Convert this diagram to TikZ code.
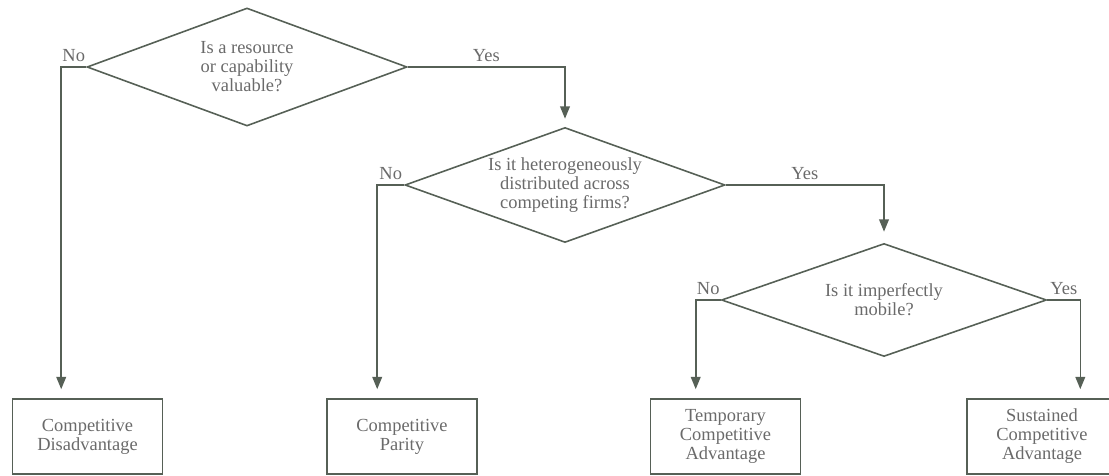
\documentclass[tikz,border=0pt]{standalone}
\usepackage{fontspec}
\setmainfont{Liberation Serif}
\usepackage{tikz}
\usetikzlibrary{arrows.meta,shapes.geometric}
\definecolor{inkgrey}{HTML}{566056}
\definecolor{textgrey}{HTML}{6A6A6A}

\begin{document}
\begin{tikzpicture}[>={Triangle[length=7pt, width=5.5pt]},
        font=\fontsize{10.5}{10.8}\selectfont, text=textgrey,
        decision/.style={diamond, aspect=2.8, draw=inkgrey, line width=0.9pt, inner sep=0pt, align=center},
        outcome/.style={draw=inkgrey, line width=0.9pt, minimum width=3cm, minimum height=1.5cm, align=center},
        flow/.style={draw=inkgrey, line width=0.9pt},
        tag/.style={above, inner sep=2.5pt}]
        \useasboundingbox (0,0) rectangle (22.18,9.5);
        \clip (0,0) rectangle (22.18,9.5);
        \node[decision, minimum width=6.4cm, minimum height=2.36cm] (valuable) at (4.94,8.16)  {Is a resource\\or capability\\valuable?};
        \node[decision, minimum width=6.4cm, minimum height=2.3cm]  (hetero)   at (11.30,5.80) {Is it heterogeneously\\distributed across\\competing firms?};
        \node[decision, minimum width=6.5cm, minimum height=2.26cm] (mobile)   at (17.68,3.50) {Is it imperfectly\\mobile?};
        \node[outcome] (disadv)    at (1.75,0.77)  {Competitive\\Disadvantage};
        \node[outcome] (parity)    at (8.04,0.77)  {Competitive\\Parity};
        \node[outcome] (temporary) at (14.51,0.77) {Temporary\\Competitive\\Advantage};
        \node[outcome] (sustained) at (20.84,0.77) {Sustained\\Competitive\\Advantage};
        % yes branches
        \draw[flow, ->, shorten >=0.16cm] (valuable.east) -- node[tag] (yes1) {Yes} (valuable.east -| hetero.north) -- (hetero.north);
        \draw[flow, ->, shorten >=0.22cm] (hetero.east) -- node[tag] (yes2) {Yes} (hetero.east -| mobile.north) -- (mobile.north);
        \draw[flow, ->, shorten >=0.18cm] (mobile.east) -- node[tag] (yes3) {Yes} ++(0.66,0) coordinate (c4) -- (c4 |- sustained.north);
        % no branches
        \draw[flow, ->, shorten >=0.18cm] (valuable.west) -- node[tag] (no1) {No} ++(-0.5,0) coordinate (c1) -- (c1 |- disadv.north);
        \draw[flow, ->, shorten >=0.18cm] (hetero.west) -- node[tag] (no2) {No} ++(-0.54,0) coordinate (c2) -- (c2 |- parity.north);
        \draw[flow, ->, shorten >=0.18cm] (mobile.west) -- node[tag] (no3) {No} ++(-0.5,0) coordinate (c3) -- (c3 |- temporary.north);
    \end{tikzpicture}
\end{document}
